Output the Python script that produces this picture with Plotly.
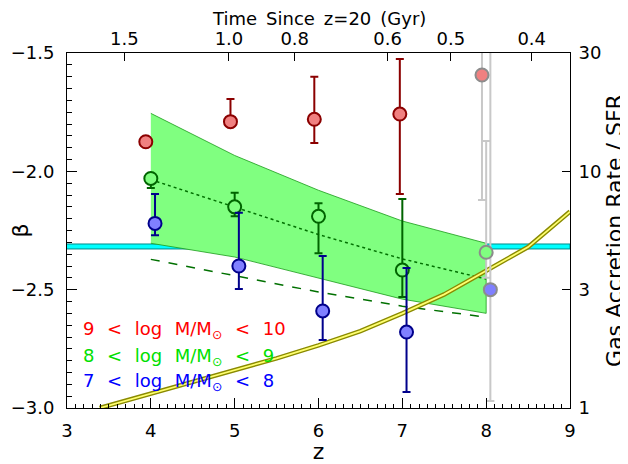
import plotly.graph_objects as go
import numpy as np

# ---- data ----
z_red = [3.94, 4.95, 5.95, 6.97]
b_red = [-1.875, -1.79, -1.78, -1.758]
b_red_hi = [-1.875, -1.694, -1.60, -1.525]
b_red_lo = [-1.875, -1.80, -1.88, -2.096]

z_green = [4.0, 5.0, 6.0, 7.0]
b_green = [-2.03, -2.15, -2.19, -2.417]
b_green_hi = [-2.03, -2.09, -2.135, -2.117]
b_green_lo = [-2.07, -2.19, -2.346, -2.531]

z_blue = [4.05, 5.05, 6.05, 7.05]
b_blue = [-2.22, -2.40, -2.59, -2.679]
b_blue_hi = [-2.096, -2.175, -2.358, -2.408]
b_blue_lo = [-2.27, -2.497, -2.713, -2.932]

# z~8 points (grey, uncertain)
z_grey = [7.95, 8.0, 8.05]
b_grey = [-1.593, -2.342, -2.50]
b_grey_hi = [-1.2, -1.872, -1.2]
b_grey_lo = [-2.121, -2.45, -2.97]
grey_fill = ['#f08080', '#80ff80', '#8080ff']

band_z = [4, 5, 6, 7, 8]
band_hi = [-1.755, -1.933, -2.08, -2.21, -2.304]
band_lo = [-2.304, -2.362, -2.45, -2.54, -2.60]
dotted_b = [-2.035, -2.15, -2.267, -2.37, -2.455]
dashed_b = [-2.372, -2.44, -2.51, -2.57, -2.616]

cyan_z = [3, 9]
cyan_lo = -2.328
cyan_hi = -2.307

yel_z = [3.39, 4, 4.5, 5, 5.5, 6, 6.5, 7, 7.5, 8, 8.5, 9]
yel_b = [-3.0, -2.94, -2.89, -2.84, -2.79, -2.735, -2.675, -2.60, -2.52, -2.42, -2.32, -2.17]

top_ticks = [1.5, 1.0, 0.8, 0.6, 0.5, 0.4]   # Gyr since z=20
right_ticks = ['1', '3', '10', '30']

FONT = 'DejaVu Sans'
SP = '\u2002'            # wide space, like the IDL font
SPL = '\u2002\u2009'     # even wider one for the mass labels


def z_of_time(t, A=17.0):
    # matter-dominated approx: t = A[(1+z)^-1.5 - 21^-1.5]
    return (t / A + 21 ** -1.5) ** (-2.0 / 3.0) - 1


def err(v, hi, lo):
    return dict(type='data', array=[h - c for h, c in zip(hi, v)],
                arrayminus=[c - l for l, c in zip(lo, v)])


fig = go.Figure()

# cyan horizontal band
fig.add_trace(go.Scatter(x=cyan_z + cyan_z[::-1], y=[cyan_hi, cyan_hi, cyan_lo, cyan_lo],
                         fill='toself', fillcolor='#00ffff', mode='lines',
                         line=dict(color='#008b8b', width=1), hoverinfo='skip'))

# green band
fig.add_trace(go.Scatter(x=band_z + band_z[::-1], y=band_hi + band_lo[::-1],
                         fill='toself', fillcolor='#80ff80', mode='lines',
                         line=dict(color='#1a9a1a', width=0.8), hoverinfo='skip'))
fig.add_trace(go.Scatter(x=band_z, y=dotted_b, mode='lines',
                         line=dict(color='#007000', width=1.5, dash='dot')))
fig.add_trace(go.Scatter(x=band_z, y=dashed_b, mode='lines',
                         line=dict(color='#007000', width=1.5, dash='dash')))

# yellow double line
fig.add_trace(go.Scatter(x=yel_z, y=yel_b, mode='lines', line=dict(color='#8a8a00', width=4.5)))
fig.add_trace(go.Scatter(x=yel_z, y=yel_b, mode='lines', line=dict(color='#ffff70', width=1.8)))

# grey z~8 points
fig.add_trace(go.Scatter(x=z_grey, y=b_grey, mode='markers',
                         error_y=dict(err(b_grey, b_grey_hi, b_grey_lo), color='#c8c8c8', thickness=2, width=4),
                         marker=dict(size=13, color=grey_fill, line=dict(color='#8c8c8c', width=2))))

for zz, bb, hi, lo, fill, edge in [
        (z_red, b_red, b_red_hi, b_red_lo, '#f08080', '#8b0000'),
        (z_green, b_green, b_green_hi, b_green_lo, '#80ff80', '#006400'),
        (z_blue, b_blue, b_blue_hi, b_blue_lo, '#8080ff', '#00008b')]:
    fig.add_trace(go.Scatter(x=zz, y=bb, mode='markers',
                             error_y=dict(err(bb, hi, lo), color=edge, thickness=2, width=4),
                             marker=dict(size=13, color=fill, line=dict(color=edge, width=2))))

# dummy trace for secondary axes
fig.add_trace(go.Scatter(x=[3], y=[1], xaxis='x2', yaxis='y2', mode='markers',
                         marker=dict(opacity=0), hoverinfo='skip'))

labels = [(f'9{SPL}&lt;{SPL}log{SPL}M/M<sub>⊙</sub>{SPL}&lt;{SPL}10', '#ff0000', 0.22),
          (f'8{SPL}&lt;{SPL}log{SPL}M/M<sub>⊙</sub>{SPL}&lt;{SPL}9', '#00e000', 0.144),
          (f'7{SPL}&lt;{SPL}log{SPL}M/M<sub>⊙</sub>{SPL}&lt;{SPL}8', '#0000ff', 0.073)]
for txt, col, yy in labels:
    fig.add_annotation(x=0.028, y=yy, xref='paper', yref='paper', text=txt, showarrow=False,
                       xanchor='left', yanchor='middle', font=dict(color=col, size=18, family=FONT))

# top axis title, placed by hand above the tick labels
fig.add_annotation(x=0.5, y=1.097, xref='paper', yref='paper', showarrow=False,
                   text=f'Time{SP}Since{SP}z=20{SP}(Gyr)', xanchor='center', yanchor='middle',
                   font=dict(size=18, color='black', family=FONT))

axcommon = dict(showline=True, linecolor='black', linewidth=1, ticks='inside',
                tickcolor='black', showgrid=False, zeroline=False, automargin=False,
                tickfont=dict(size=18, color='black', family=FONT))

# page body has an 8px margin, so the figure is shrunk/shifted to fit the window
fig.update_layout(
    width=620, height=456, showlegend=False,
    plot_bgcolor='white', paper_bgcolor='white',
    margin=dict(l=59, r=58, t=45, b=56, autoexpand=False),
    font=dict(family=FONT, size=18, color='black'),
    xaxis=dict(axcommon, range=[3, 9], tickvals=[3, 4, 5, 6, 7, 8, 9], ticklen=10,
               ticklabelstandoff=6,
               minor=dict(dtick=0.1, ticklen=4, ticks='inside', tickcolor='black'),
               title=dict(text='z', standoff=16)),
    xaxis2=dict(axcommon, range=[3, 9], overlaying='x', side='top', ticklen=8,
                ticklabelstandoff=0,
                tickvals=[z_of_time(t) for t in top_ticks],
                ticktext=['%.1f' % t for t in top_ticks]),
    yaxis=dict(axcommon, range=[-3.0, -1.5], tickvals=[-3.0, -2.5, -2.0, -1.5],
               ticktext=['−3.0', '−2.5', '−2.0', '−1.5'], ticklen=10,
               ticklabelstandoff=8,
               minor=dict(dtick=0.05, ticklen=5, ticks='inside', tickcolor='black'),
               title=dict(text='β', standoff=6)),
    yaxis2=dict(axcommon, type='log', range=[0, 1.5], overlaying='y', side='right', ticklen=8,
                ticklabelstandoff=4,
                tickvals=[1, 10 ** 0.5, 10, 10 ** 1.5], ticktext=right_ticks,
                title=dict(text='Gas Accretion Rate / SFR', standoff=4)),
)

fig.write_html('out.html')
